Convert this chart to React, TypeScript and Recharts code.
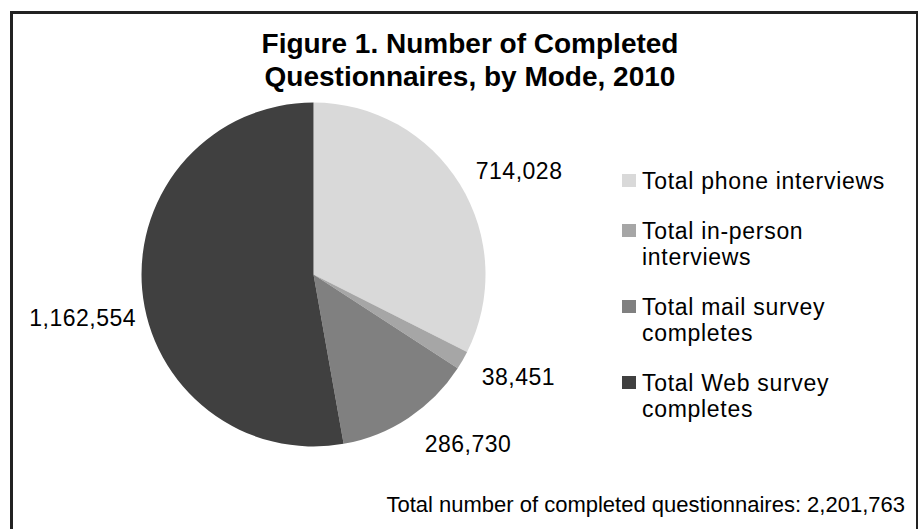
import { PieChart, Pie, Cell, Legend } from "recharts";

const modes = [
  "Total phone interviews",
  "Total in-person interviews",
  "Total mail survey completes",
  "Total Web survey completes",
];
const completes = [714028, 38451, 286730, 1162554];
const sliceColors = ["#d9d9d9", "#a6a6a6", "#808080", "#404040"];
const titleLines = ["Figure 1. Number of Completed", "Questionnaires, by Mode, 2010"];
const totalNote = "Total number of completed questionnaires: 2,201,763";

// label placement tweaks (radius from centre, angle shift in degrees)
const labelRadius = [230, 229, 229, 235];
const labelShift = [-5, 3.4, 8.9, 5.7];

const data = modes.map((name, i) => ({ name, value: completes[i] }));
const FONT = "'Liberation Sans', Arial, sans-serif";
const RAD = Math.PI / 180;

const renderLabel = (props: any) => {
  const { cx, cy, midAngle, index, value } = props;
  const a = (midAngle + labelShift[index]) * RAD;
  const x = cx + labelRadius[index] * Math.cos(a);
  const y = cy - labelRadius[index] * Math.sin(a);
  return (
    <text
      x={x}
      y={y}
      textAnchor="middle"
      dominantBaseline="central"
      fill="#000"
      fontSize={23}
      letterSpacing={0.5}
      fontFamily={FONT}
    >
      {value.toLocaleString("en-US")}
    </text>
  );
};

const renderLegend = () => (
  <div style={{ fontFamily: FONT, fontSize: 23, color: "#000" }}>
    {modes.map((m, i) => (
      <div key={m} style={{ display: "flex", alignItems: "flex-start", marginBottom: 24 }}>
        <span
          style={{
            width: 14,
            height: 13,
            background: sliceColors[i],
            marginTop: 6,
            marginRight: 6,
            flex: "none",
          }}
        />
        <span style={{ lineHeight: "26px", width: 262, letterSpacing: 0.7 }}>{m}</span>
      </div>
    ))}
  </div>
);

export default function App() {
  return (
    <div style={{ position: "fixed", left: 0, top: 0, width: 919, height: 529, background: "#fff", overflow: "hidden" }}>
      <div
        style={{
          position: "absolute",
          left: 10,
          top: 11,
          width: 908,
          height: 540,
          border: "3px solid #222",
          borderRight: "2px solid #222",
          boxSizing: "border-box",
        }}
      />
      <div
        style={{
          position: "absolute",
          left: 10,
          top: 27,
          width: 920,
          textAlign: "center",
          fontFamily: FONT,
          fontWeight: "bold",
          fontSize: 28,
          lineHeight: "33px",
        }}
      >
        {titleLines.map((t) => (
          <div key={t}>{t}</div>
        ))}
      </div>
      <div
        style={{
          position: "absolute",
          right: 14,
          top: 492,
          fontFamily: FONT,
          fontSize: 22,
          whiteSpace: "nowrap",
        }}
      >
        {totalNote}
      </div>
      <div style={{ position: "absolute", left: 0, top: 0 }}>
        <PieChart width={919} height={529} margin={{ top: 0, right: 0, bottom: 0, left: 0 }}>
          <Pie
            data={data}
            dataKey="value"
            nameKey="name"
            cx={313.5}
            cy={274.5}
            outerRadius={172}
            startAngle={90}
            endAngle={-270}
            stroke="none"
            label={renderLabel}
            labelLine={false}
            isAnimationActive={false}
          >
            {data.map((d, i) => (
              <Cell key={d.name} fill={sliceColors[i]} />
            ))}
          </Pie>
          <Legend
            layout="vertical"
            content={renderLegend}
            wrapperStyle={{ left: 622, top: 168, width: 295 }}
          />
        </PieChart>
      </div>
    </div>
  );
}
